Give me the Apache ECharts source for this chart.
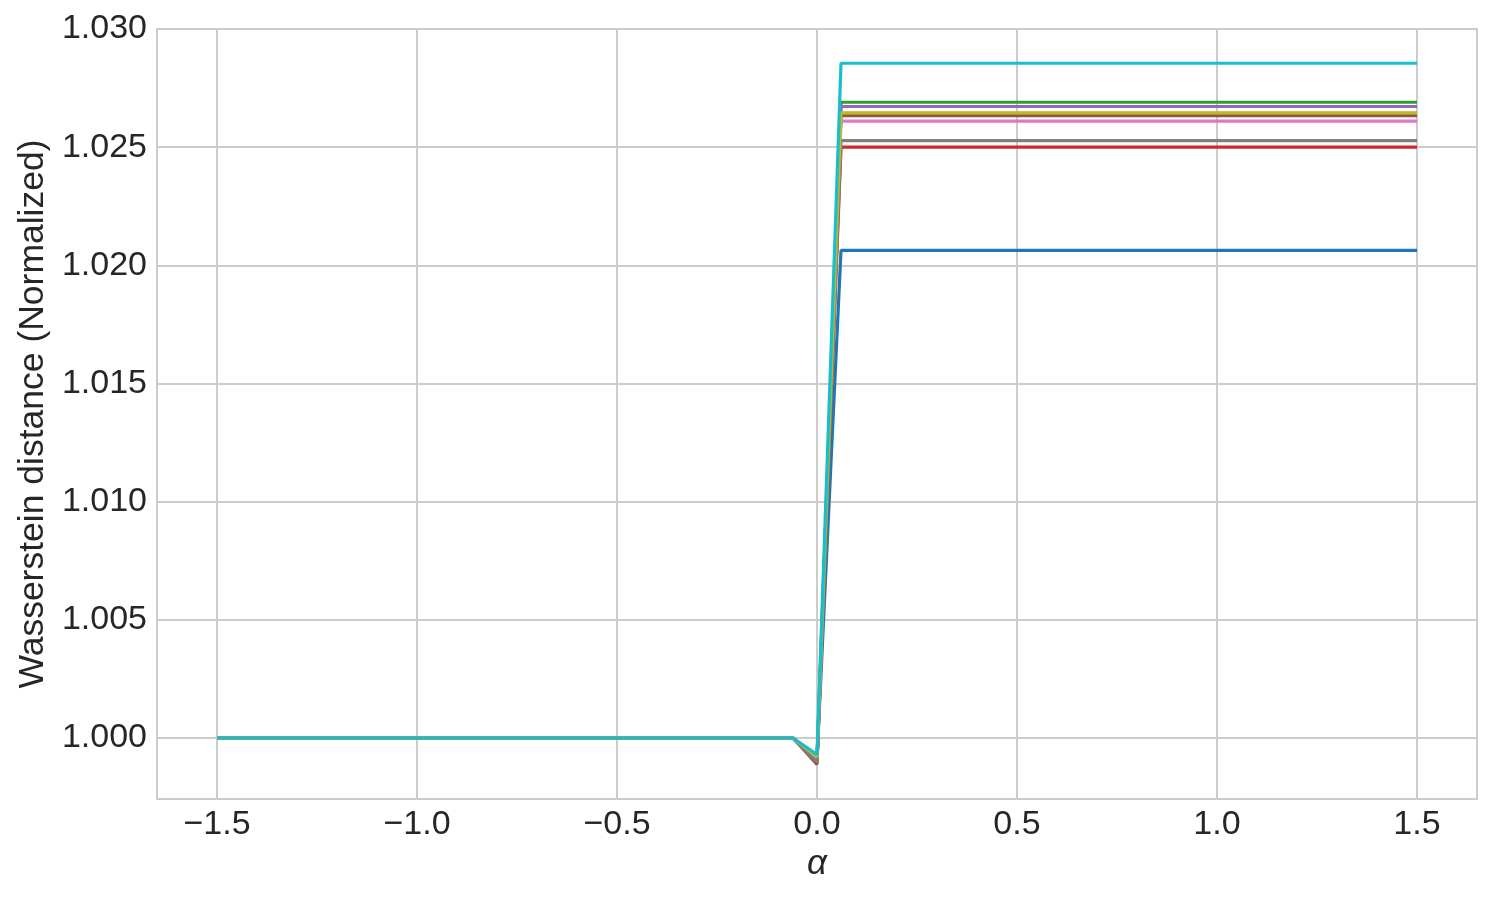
<!DOCTYPE html>
<html>
<head>
<meta charset="utf-8">
<script src="https://cdn.jsdelivr.net/npm/echarts@6/dist/echarts.min.js"></script>
<style>
html,body{margin:0;padding:0;background:#fff;}
#chart{width:1494px;height:899px;}
</style>
</head>
<body>
<div id="chart"></div>
<script>
const alphaValues = [-1.5,-1.44,-1.38,-1.32,-1.26,-1.2,-1.14,-1.08,-1.02,-0.96,-0.9,-0.84,-0.78,-0.72,-0.66,-0.6,-0.54,-0.48,-0.42,-0.36,-0.3,-0.24,-0.18,-0.12,-0.06,0,0.06,0.12,0.18,0.24,0.3,0.36,0.42,0.48,0.54,0.6,0.66,0.72,0.78,0.84,0.9,0.96,1.02,1.08,1.14,1.2,1.26,1.32,1.38,1.44,1.5];

const s0 = [1,1,1,1,1,1,1,1,1,1,1,1,1,1,1,1,1,1,1,1,1,1,1,1,1,0.99910,1.02063,1.02063,1.02063,1.02063,1.02063,1.02063,1.02063,1.02063,1.02063,1.02063,1.02063,1.02063,1.02063,1.02063,1.02063,1.02063,1.02063,1.02063,1.02063,1.02063,1.02063,1.02063,1.02063,1.02063,1.02063];
const s1 = [1,1,1,1,1,1,1,1,1,1,1,1,1,1,1,1,1,1,1,1,1,1,1,1,1,0.99915,1.02643,1.02643,1.02643,1.02643,1.02643,1.02643,1.02643,1.02643,1.02643,1.02643,1.02643,1.02643,1.02643,1.02643,1.02643,1.02643,1.02643,1.02643,1.02643,1.02643,1.02643,1.02643,1.02643,1.02643,1.02643];
const s2 = [1,1,1,1,1,1,1,1,1,1,1,1,1,1,1,1,1,1,1,1,1,1,1,1,1,0.99900,1.02690,1.02690,1.02690,1.02690,1.02690,1.02690,1.02690,1.02690,1.02690,1.02690,1.02690,1.02690,1.02690,1.02690,1.02690,1.02690,1.02690,1.02690,1.02690,1.02690,1.02690,1.02690,1.02690,1.02690,1.02690];
const s3 = [1,1,1,1,1,1,1,1,1,1,1,1,1,1,1,1,1,1,1,1,1,1,1,1,1,0.99905,1.02500,1.02500,1.02500,1.02500,1.02500,1.02500,1.02500,1.02500,1.02500,1.02500,1.02500,1.02500,1.02500,1.02500,1.02500,1.02500,1.02500,1.02500,1.02500,1.02500,1.02500,1.02500,1.02500,1.02500,1.02500];
const s4 = [1,1,1,1,1,1,1,1,1,1,1,1,1,1,1,1,1,1,1,1,1,1,1,1,1,0.99900,1.02672,1.02672,1.02672,1.02672,1.02672,1.02672,1.02672,1.02672,1.02672,1.02672,1.02672,1.02672,1.02672,1.02672,1.02672,1.02672,1.02672,1.02672,1.02672,1.02672,1.02672,1.02672,1.02672,1.02672,1.02672];
const s5 = [1,1,1,1,1,1,1,1,1,1,1,1,1,1,1,1,1,1,1,1,1,1,1,1,1,0.99888,1.02633,1.02633,1.02633,1.02633,1.02633,1.02633,1.02633,1.02633,1.02633,1.02633,1.02633,1.02633,1.02633,1.02633,1.02633,1.02633,1.02633,1.02633,1.02633,1.02633,1.02633,1.02633,1.02633,1.02633,1.02633];
const s6 = [1,1,1,1,1,1,1,1,1,1,1,1,1,1,1,1,1,1,1,1,1,1,1,1,1,0.99905,1.02610,1.02610,1.02610,1.02610,1.02610,1.02610,1.02610,1.02610,1.02610,1.02610,1.02610,1.02610,1.02610,1.02610,1.02610,1.02610,1.02610,1.02610,1.02610,1.02610,1.02610,1.02610,1.02610,1.02610,1.02610];
const s7 = [1,1,1,1,1,1,1,1,1,1,1,1,1,1,1,1,1,1,1,1,1,1,1,1,1,0.99898,1.02528,1.02528,1.02528,1.02528,1.02528,1.02528,1.02528,1.02528,1.02528,1.02528,1.02528,1.02528,1.02528,1.02528,1.02528,1.02528,1.02528,1.02528,1.02528,1.02528,1.02528,1.02528,1.02528,1.02528,1.02528];
const s8 = [1,1,1,1,1,1,1,1,1,1,1,1,1,1,1,1,1,1,1,1,1,1,1,1,1,0.99920,1.02645,1.02645,1.02645,1.02645,1.02645,1.02645,1.02645,1.02645,1.02645,1.02645,1.02645,1.02645,1.02645,1.02645,1.02645,1.02645,1.02645,1.02645,1.02645,1.02645,1.02645,1.02645,1.02645,1.02645,1.02645];
const s9 = [1,1,1,1,1,1,1,1,1,1,1,1,1,1,1,1,1,1,1,1,1,1,1,1,1,0.99930,1.02855,1.02855,1.02855,1.02855,1.02855,1.02855,1.02855,1.02855,1.02855,1.02855,1.02855,1.02855,1.02855,1.02855,1.02855,1.02855,1.02855,1.02855,1.02855,1.02855,1.02855,1.02855,1.02855,1.02855,1.02855];

const xTicks = [-1.5,-1.0,-0.5,0.0,0.5,1.0,1.5];
const yTicks = [1.000,1.005,1.010,1.015,1.020,1.025,1.030];
const colors = ['#1f77b4','#ff7f0e','#2ca02c','#d62728','#9467bd','#8c564b','#e377c2','#7f7f7f','#bcbd22','#17becf'];
const allSeries = [s0,s1,s2,s3,s4,s5,s6,s7,s8,s9];

const chart = echarts.init(document.getElementById('chart'), null, {renderer:'canvas'});
const font = '"Liberation Sans", Arial, Helvetica, sans-serif';
const textColor = '#262626';
const gridColor = '#cccccc';

const option = {
  animation: false,
  backgroundColor: '#ffffff',
  grid: {left:157, top:29, right:17, bottom:100, show:true, borderColor:gridColor, borderWidth:2, backgroundColor:'transparent'},
  xAxis: {
    type:'value', min:-1.65, max:1.65,
    name:'α', nameLocation:'middle', nameGap:43,
    nameTextStyle:{fontFamily:font, fontSize:35, fontStyle:'italic', color:textColor},
    axisLine:{show:false},
    axisTick:{show:false, customValues:xTicks},
    axisLabel:{customValues:xTicks, fontFamily:font, fontSize:34, color:textColor, margin:9,
      formatter: v => v.toFixed(1).replace('-', '\u2212')},
    splitLine:{show:true, lineStyle:{color:gridColor, width:2}}
  },
  yAxis: {
    type:'value', min:0.99742, max:1.030,
    name:'Wasserstein distance (Normalized)', nameLocation:'middle', nameGap:102,
    nameTextStyle:{fontFamily:font, fontSize:35.5, color:textColor},
    axisLine:{show:false},
    axisTick:{show:false, customValues:yTicks},
    axisLabel:{customValues:yTicks, fontFamily:font, fontSize:34, color:textColor, margin:10,
      formatter: v => v.toFixed(3)},
    splitLine:{show:true, lineStyle:{color:gridColor, width:2}}
  },
  series: allSeries.map((arr, i) => ({
    type:'line',
    data: alphaValues.map((a, j) => [a, arr[j]]),
    showSymbol:false, symbol:'none',
    lineStyle:{color:colors[i], width:3.2},
    itemStyle:{color:colors[i]},
    z: 2 + i
  }))
};
chart.setOption(option);
</script>
</body>
</html>
